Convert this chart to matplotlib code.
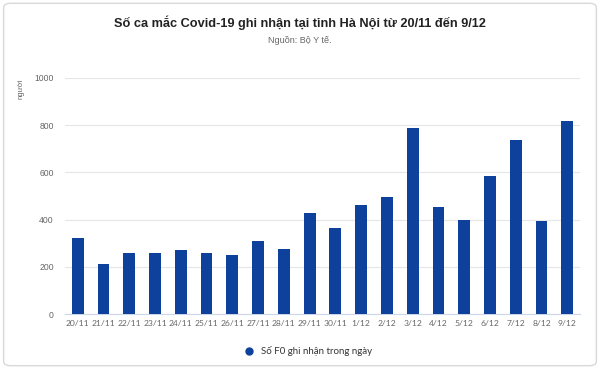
import matplotlib
matplotlib.use("Agg")
import matplotlib.pyplot as plt
from matplotlib.patches import FancyBboxPatch
from matplotlib.lines import Line2D

# ===== 데이터 =====
dates = ["20/11", "21/11", "22/11", "23/11", "24/11", "25/11", "26/11", "27/11",
         "28/11", "29/11", "30/11", "1/12", "2/12", "3/12", "4/12", "5/12",
         "6/12", "7/12", "8/12", "9/12"]
cases = [323, 213, 258, 258, 272, 260, 250, 308, 274, 427, 364, 462, 495,
         788, 452, 397, 585, 736, 394, 818]
yticks = [0, 200, 400, 600, 800, 1000]

TITLE = "Số ca mắc Covid-19 ghi nhận tại tỉnh Hà Nội từ 20/11 đến 9/12"
SUBTITLE = "Nguồn: Bộ Y tế."
SERIES = "Số F0 ghi nhận trong ngày"
BAR_COLOR = "#0d419b"

fig = plt.figure(figsize=(6, 3.69), dpi=100)

# 카드 테두리 (축 뒤에 깔리도록 zorder 낮게)
card = FancyBboxPatch((0.006, 0.009), 0.988, 0.982,
                      boxstyle="round,pad=0,rounding_size=0.012",
                      transform=fig.transFigure, fc="white", ec="#d9d9d9", lw=1,
                      zorder=-10)
fig.patches.append(card)

ax = fig.add_axes([0.108, 0.149, 0.859, 0.640])
ax.set_zorder(5)
x = range(len(dates))
ax.bar(x, cases, width=0.46, color=BAR_COLOR, zorder=3)

ax.set_xlim(-0.5, len(dates) - 0.5)
ax.set_ylim(0, 1000)
ax.set_yticks(yticks)
ax.set_xticks(list(x))
ax.set_xticklabels(dates)
ax.grid(axis="y", color="#e6e6e6", lw=0.8, zorder=0)
for s in ("top", "right", "left"):
    ax.spines[s].set_visible(False)
ax.spines["bottom"].set_color("#ccd6eb")
ax.tick_params(axis="both", length=0, colors="#666666")
ax.tick_params(axis="x", labelsize=6.1, pad=4)
ax.tick_params(axis="y", labelsize=6.2, pad=8)
for lab in ax.get_xticklabels():
    lab.set_fontfamily("Lato")
for lab in ax.get_yticklabels():
    lab.set_fontfamily("Liberation Sans")
ax.set_facecolor("none")

fig.text(0.035, 0.76, "người", rotation=90, fontsize=5.5, color="#666666",
         ha="center", va="center", family="Liberation Sans")

fig.text(0.5, 0.937, TITLE, ha="center", va="center", fontsize=9.2,
         fontweight="bold", color="#222222", family="Liberation Sans")
fig.text(0.5, 0.89, SUBTITLE, ha="center", va="center", fontsize=6.5,
         color="#666666", family="Liberation Sans")

handle = Line2D([], [], marker="o", ls="none", color=BAR_COLOR, markersize=5)
fig.legend([handle], [SERIES], loc="center", bbox_to_anchor=(0.51, 0.048),
           frameon=False, handletextpad=0.2, labelcolor="#333333",
           prop={"family": "Lato", "size": 7})

fig.savefig("out.png", dpi=100)
